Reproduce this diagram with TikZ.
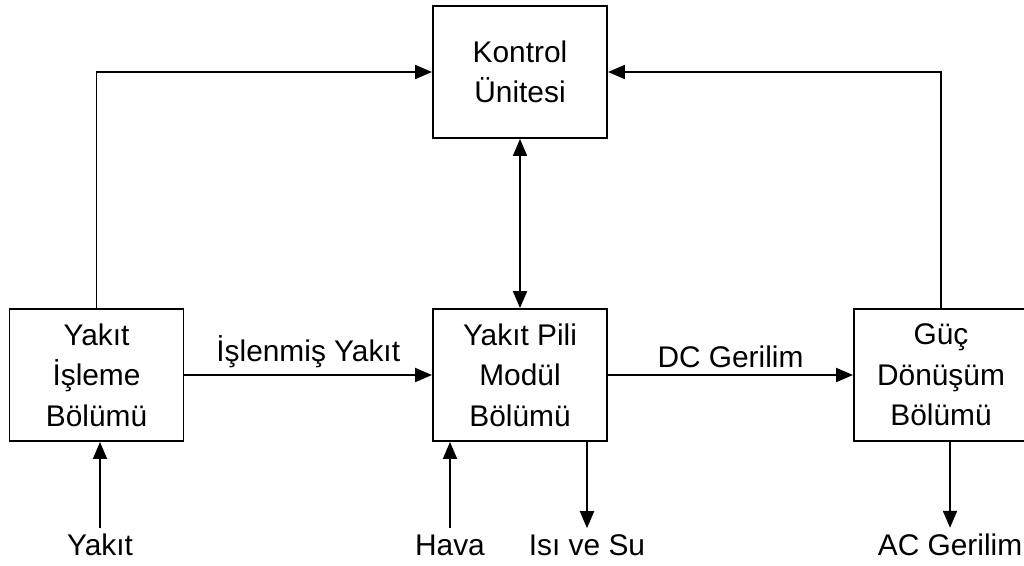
\documentclass[tikz,border=0pt]{standalone}
\usepackage{fontspec}
\setmainfont{Liberation Sans}
\usetikzlibrary{arrows.meta}

\tikzset{blok/.style={draw, line width=1.1pt, minimum width=3.48cm, minimum height=2.64cm, align=center, font=\fontsize{17}{23}\selectfont},
  etq/.style={font=\fontsize{17}{20}\selectfont},
  ok/.style={line width=1.1pt, -{Triangle[length=3.4mm, width=2.8mm]}}}

\begin{document}
\begin{tikzpicture}[x=0.02cm, y=-0.02cm]
  \useasboundingbox (0,0) rectangle (1024,565);
  % kutular
  \node[blok] (kontrol) at (520,72)  {Kontrol\\Ünitesi};
  \node[blok] (isleme)  at (96.5,375) {Yakıt\\İşleme\\Bölümü};
  \node[blok] (pil)     at (520,375) {Yakıt Pili\\Modül\\Bölümü};
  \node[blok] (guc)     at (941,375) {Güç\\Dönüşüm\\Bölümü};
  % giris / cikis etiketleri
  \node[etq] (yakit) at (100,545) {Yakıt};
  \node[etq] (hava)  at (450,545) {Hava};
  \node[etq] (isisu) at (587,545) {Isı ve Su};
  \node[etq] (ac)    at (950,545) {AC Gerilim};
  % baglantilar
  \draw[ok] (isleme.north) |- (kontrol.west);
  \draw[ok] (guc.north) |- (kontrol.east);
  \draw[ok, {Triangle[length=3.4mm, width=2.8mm]}-{Triangle[length=3.4mm, width=2.8mm]}] (kontrol) -- (pil);
  \draw[ok] (isleme) -- node[etq, above] {İşlenmiş Yakıt} (pil);
  \draw[ok] (pil) -- node[etq, above] {DC Gerilim} (guc);
  \draw[ok] (yakit.north) -- (yakit.north |- isleme.south);
  \draw[ok] (hava.north) -- (hava.north |- pil.south);
  \draw[ok] (isisu.north |- pil.south) -- (isisu.north);
  \draw[ok] (ac.north |- guc.south) -- (ac.north);
\end{tikzpicture}
\end{document}
